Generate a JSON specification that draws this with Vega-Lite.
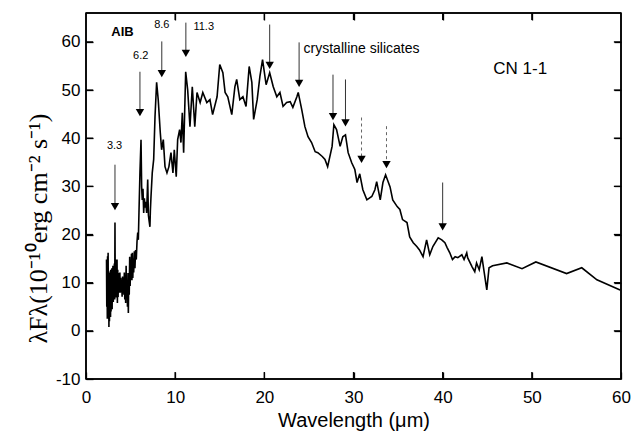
{
  "$schema": "https://vega.github.io/schema/vega-lite/v6.json",
  "width": 535,
  "height": 366,
  "autosize": {"type": "none"},
  "padding": {"left": 86, "top": 13, "right": 23, "bottom": 52},
  "background": "white",
  "config": {
    "view": {"stroke": "black", "strokeWidth": 1.5},
    "font": "Liberation Sans",
    "axis": {
      "domain": false,
      "grid": false,
      "ticks": true,
      "tickColor": "black",
      "tickSize": 7,
      "tickWidth": 1.3,
      "offset": -7,
      "labelColor": "black",
      "labelFlush": false,
      "labelFont": "Liberation Sans",
      "labelFontSize": 17,
      "titleColor": "black",
      "titleFontWeight": "normal"
    }
  },
  "datasets": {
    "spectrum": [
      {"w": 2.3, "f": 14.8}, {"w": 2.33, "f": 5.0}, {"w": 2.36, "f": 13.0}, {"w": 2.39, "f": 2.5}, {"w": 2.42, "f": 15.5},
      {"w": 2.45, "f": 3.7}, {"w": 2.48, "f": 16.2}, {"w": 2.51, "f": 4.0}, {"w": 2.54, "f": 12.5}, {"w": 2.57, "f": 0.8},
      {"w": 2.6, "f": 11.0}, {"w": 2.63, "f": 2.0}, {"w": 2.66, "f": 12.1}, {"w": 2.69, "f": 3.0}, {"w": 2.72, "f": 10.5},
      {"w": 2.75, "f": 2.9}, {"w": 2.78, "f": 12.7}, {"w": 2.81, "f": 4.0}, {"w": 2.84, "f": 11.5}, {"w": 2.87, "f": 5.0},
      {"w": 2.9, "f": 13.0}, {"w": 2.93, "f": 4.5}, {"w": 2.96, "f": 12.1}, {"w": 2.99, "f": 6.4}, {"w": 3.02, "f": 13.5},
      {"w": 3.06, "f": 6.0}, {"w": 3.1, "f": 12.5}, {"w": 3.14, "f": 7.0}, {"w": 3.18, "f": 14.0}, {"w": 3.22, "f": 6.5},
      {"w": 3.25, "f": 22.5}, {"w": 3.28, "f": 8.0}, {"w": 3.32, "f": 14.8}, {"w": 3.36, "f": 6.9}, {"w": 3.4, "f": 13.5},
      {"w": 3.44, "f": 7.5}, {"w": 3.48, "f": 14.8}, {"w": 3.52, "f": 5.8}, {"w": 3.56, "f": 12.7}, {"w": 3.6, "f": 7.0},
      {"w": 3.64, "f": 12.0}, {"w": 3.68, "f": 7.9}, {"w": 3.72, "f": 11.5}, {"w": 3.76, "f": 8.5}, {"w": 3.8, "f": 12.1},
      {"w": 3.85, "f": 7.9}, {"w": 3.9, "f": 11.0}, {"w": 3.95, "f": 8.2}, {"w": 4.0, "f": 10.6}, {"w": 4.05, "f": 7.1},
      {"w": 4.1, "f": 11.3}, {"w": 4.15, "f": 8.0}, {"w": 4.2, "f": 10.8}, {"w": 4.25, "f": 7.5}, {"w": 4.3, "f": 12.1},
      {"w": 4.35, "f": 6.5}, {"w": 4.4, "f": 11.0}, {"w": 4.45, "f": 5.8}, {"w": 4.5, "f": 13.5}, {"w": 4.55, "f": 7.0},
      {"w": 4.6, "f": 12.0}, {"w": 4.65, "f": 5.0}, {"w": 4.7, "f": 9.0}, {"w": 4.75, "f": 3.7}, {"w": 4.8, "f": 12.0},
      {"w": 4.85, "f": 7.5}, {"w": 4.9, "f": 15.4}, {"w": 4.95, "f": 9.3}, {"w": 5.0, "f": 14.0}, {"w": 5.05, "f": 10.6},
      {"w": 5.1, "f": 16.0}, {"w": 5.15, "f": 10.5}, {"w": 5.2, "f": 16.2}, {"w": 5.25, "f": 11.0}, {"w": 5.3, "f": 15.0},
      {"w": 5.35, "f": 12.1}, {"w": 5.42, "f": 16.5}, {"w": 5.49, "f": 13.0}, {"w": 5.56, "f": 16.8}, {"w": 5.64, "f": 14.8},
      {"w": 5.72, "f": 18.5}, {"w": 5.8, "f": 20.4}, {"w": 5.87, "f": 18.9}, {"w": 5.94, "f": 24.5}, {"w": 6.05, "f": 32.8},
      {"w": 6.17, "f": 39.7}, {"w": 6.24, "f": 30.0}, {"w": 6.31, "f": 27.2}, {"w": 6.39, "f": 29.5}, {"w": 6.47, "f": 24.5},
      {"w": 6.55, "f": 27.5}, {"w": 6.61, "f": 25.6}, {"w": 6.7, "f": 26.8}, {"w": 6.8, "f": 24.5}, {"w": 6.92, "f": 31.4},
      {"w": 7.0, "f": 24.0}, {"w": 7.06, "f": 23.1}, {"w": 7.17, "f": 21.6}, {"w": 7.22, "f": 25.0},
      {"w": 7.29, "f": 27.9}, {"w": 7.43, "f": 32.8}, {"w": 7.59, "f": 35.6}, {"w": 7.74, "f": 44.5}, {"w": 7.92, "f": 51.6},
      {"w": 8.1, "f": 48.0}, {"w": 8.33, "f": 41.2}, {"w": 8.48, "f": 37.6}, {"w": 8.67, "f": 39.7}, {"w": 8.86, "f": 34.1},
      {"w": 9.08, "f": 32.8}, {"w": 9.3, "f": 34.1}, {"w": 9.53, "f": 37.0}, {"w": 9.75, "f": 32.8}, {"w": 9.9, "f": 37.6},
      {"w": 10.12, "f": 32.0}, {"w": 10.28, "f": 39.7}, {"w": 10.5, "f": 41.8}, {"w": 10.65, "f": 39.1}, {"w": 10.8, "f": 45.3},
      {"w": 10.95, "f": 37.0}, {"w": 11.18, "f": 53.8}, {"w": 11.4, "f": 50.1}, {"w": 11.66, "f": 42.4}, {"w": 11.92, "f": 50.7},
      {"w": 12.2, "f": 42.4}, {"w": 12.45, "f": 49.5}, {"w": 12.8, "f": 47.4}, {"w": 13.1, "f": 49.5}, {"w": 13.55, "f": 47.4},
      {"w": 13.9, "f": 48.0}, {"w": 14.2, "f": 44.9}, {"w": 14.7, "f": 48.6}, {"w": 15.0, "f": 55.3}, {"w": 15.35, "f": 53.6},
      {"w": 15.6, "f": 49.5}, {"w": 15.9, "f": 48.6}, {"w": 16.35, "f": 44.9}, {"w": 16.7, "f": 50.7}, {"w": 16.9, "f": 52.2},
      {"w": 17.25, "f": 48.0}, {"w": 17.6, "f": 48.6}, {"w": 17.95, "f": 46.6}, {"w": 18.3, "f": 54.9}, {"w": 18.6, "f": 51.6},
      {"w": 18.8, "f": 43.9}, {"w": 19.2, "f": 48.0}, {"w": 19.5, "f": 52.8}, {"w": 19.8, "f": 56.3}, {"w": 20.2, "f": 51.1},
      {"w": 20.6, "f": 53.6}, {"w": 21.0, "f": 50.7}, {"w": 21.4, "f": 48.6}, {"w": 21.75, "f": 49.5}, {"w": 22.1, "f": 46.6},
      {"w": 22.5, "f": 47.4}, {"w": 22.9, "f": 47.6}, {"w": 23.2, "f": 46.4}, {"w": 23.65, "f": 48.6}, {"w": 23.8, "f": 49.5},
      {"w": 24.2, "f": 45.9}, {"w": 24.55, "f": 42.4}, {"w": 24.9, "f": 40.3}, {"w": 25.3, "f": 39.1}, {"w": 25.7, "f": 37.2},
      {"w": 26.0, "f": 37.0}, {"w": 26.5, "f": 36.2}, {"w": 26.8, "f": 35.6}, {"w": 27.1, "f": 34.1}, {"w": 27.6, "f": 38.3},
      {"w": 27.8, "f": 42.8}, {"w": 28.1, "f": 41.8}, {"w": 28.5, "f": 38.3}, {"w": 28.8, "f": 40.3}, {"w": 29.1, "f": 40.7},
      {"w": 29.4, "f": 37.0}, {"w": 29.8, "f": 34.9}, {"w": 30.15, "f": 33.5}, {"w": 30.4, "f": 30.8}, {"w": 30.7, "f": 32.6},
      {"w": 31.05, "f": 29.3}, {"w": 31.5, "f": 27.2}, {"w": 32.05, "f": 27.9}, {"w": 32.4, "f": 29.3}, {"w": 32.6, "f": 31.0},
      {"w": 33.0, "f": 27.2}, {"w": 33.3, "f": 30.8}, {"w": 33.6, "f": 32.4}, {"w": 34.1, "f": 29.9}, {"w": 34.4, "f": 27.2},
      {"w": 34.9, "f": 25.8}, {"w": 35.2, "f": 25.2}, {"w": 35.5, "f": 23.1}, {"w": 36.0, "f": 22.5}, {"w": 36.3, "f": 19.5},
      {"w": 36.7, "f": 18.3}, {"w": 37.1, "f": 17.5}, {"w": 37.4, "f": 16.8}, {"w": 37.8, "f": 15.4}, {"w": 38.2, "f": 18.9},
      {"w": 38.55, "f": 15.8}, {"w": 38.9, "f": 17.5}, {"w": 39.5, "f": 19.3}, {"w": 39.9, "f": 18.9}, {"w": 40.25, "f": 18.3},
      {"w": 40.5, "f": 17.3}, {"w": 40.8, "f": 16.2}, {"w": 41.1, "f": 14.8}, {"w": 41.4, "f": 15.4}, {"w": 41.7, "f": 15.2},
      {"w": 42.15, "f": 15.8}, {"w": 42.4, "f": 14.8}, {"w": 42.7, "f": 16.2}, {"w": 42.8, "f": 15.2}, {"w": 43.3, "f": 13.3},
      {"w": 43.6, "f": 12.3}, {"w": 43.8, "f": 14.1}, {"w": 44.1, "f": 12.7}, {"w": 44.4, "f": 15.4}, {"w": 44.5, "f": 14.1},
      {"w": 44.95, "f": 8.5}, {"w": 45.2, "f": 13.1}, {"w": 45.6, "f": 13.5}, {"w": 47.2, "f": 14.1}, {"w": 48.9, "f": 12.9},
      {"w": 50.45, "f": 14.3}, {"w": 53.9, "f": 11.9}, {"w": 55.6, "f": 13.1}, {"w": 57.3, "f": 10.6}, {"w": 59.9, "f": 8.5}
    ],
    "arrows": [
      {"w": 3.25, "top": 34.5, "head": 25.8},
      {"w": 6.05, "top": 53.8, "head": 45.3},
      {"w": 8.5, "top": 60.1, "head": 53.4},
      {"w": 11.2, "top": 64.0, "head": 57.6},
      {"w": 20.6, "top": 63.6, "head": 55.1},
      {"w": 23.9, "top": 59.9, "head": 51.4},
      {"w": 27.7, "top": 53.2, "head": 44.5},
      {"w": 29.1, "top": 52.2, "head": 43.2},
      {"w": 40.0, "top": 30.8, "head": 21.6}
    ],
    "faintArrows": [
      {"w": 30.9, "top": 44.3, "head": 35.6},
      {"w": 33.7, "top": 42.5, "head": 34.5}
    ],
    "labels": [
      {"w": 3.2, "f": 38.3, "text": "3.3"},
      {"w": 6.13, "f": 57.0, "text": "6.2"},
      {"w": 8.5, "f": 63.6, "text": "8.6"},
      {"w": 13.2, "f": 63.0, "text": "11.3"}
    ],
    "frame": [
      {"a": 0, "b": 60, "c": -10, "d": -10},
      {"a": 0, "b": 60, "c": 66, "d": 66},
      {"a": 0, "b": 0, "c": -10, "d": 66},
      {"a": 60, "b": 60, "c": -10, "d": 66}
    ],
    "xticks": [{"v": 10}, {"v": 20}, {"v": 30}, {"v": 40}, {"v": 50}],
    "yticks": [{"v": 0}, {"v": 10}, {"v": 20}, {"v": 30}, {"v": 40}, {"v": 50}, {"v": 60}]
  },
  "layer": [
    {
      "data": {"name": "frame"},
      "mark": {"type": "rule", "color": "black", "strokeWidth": 1.5},
      "encoding": {
        "x": {"field": "a", "type": "quantitative", "scale": {"domain": [0, 60], "nice": false, "zero": false},
              "axis": {"orient": "top", "values": [10, 20, 30, 40, 50], "labels": false, "title": null}},
        "x2": {"field": "b"},
        "y": {"field": "c", "type": "quantitative", "scale": {"domain": [-10, 66], "nice": false, "zero": false},
              "axis": {"orient": "right", "values": [0, 10, 20, 30, 40, 50, 60], "labels": false, "title": null}},
        "y2": {"field": "d"}
      }
    },
    {
      "data": {"name": "xticks"},
      "mark": {"type": "rule", "color": "black", "strokeWidth": 1.3},
      "encoding": {
        "x": {"field": "v", "type": "quantitative", "axis": null},
        "y": {"datum": -10, "type": "quantitative", "axis": null},
        "y2": {"datum": -8.55}
      }
    },
    {
      "data": {"name": "xticks"},
      "mark": {"type": "rule", "color": "black", "strokeWidth": 1.3},
      "encoding": {
        "x": {"field": "v", "type": "quantitative", "axis": null},
        "y": {"datum": 66, "type": "quantitative", "axis": null},
        "y2": {"datum": 64.55}
      }
    },
    {
      "data": {"name": "yticks"},
      "mark": {"type": "rule", "color": "black", "strokeWidth": 1.3},
      "encoding": {
        "y": {"field": "v", "type": "quantitative", "axis": null},
        "x": {"datum": 0, "type": "quantitative", "axis": null},
        "x2": {"datum": 0.8}
      }
    },
    {
      "data": {"name": "yticks"},
      "mark": {"type": "rule", "color": "black", "strokeWidth": 1.3},
      "encoding": {
        "y": {"field": "v", "type": "quantitative", "axis": null},
        "x": {"datum": 60, "type": "quantitative", "axis": null},
        "x2": {"datum": 59.2}
      }
    },
    {
      "data": {"name": "spectrum"},
      "mark": {"type": "line", "color": "black", "strokeWidth": 1.6},
      "encoding": {
        "x": {
          "field": "w", "type": "quantitative",
          "axis": {
            "orient": "bottom", "values": [0, 10, 20, 30, 40, 50, 60],
            "labelPadding": 10,
            "title": "Wavelength (μm)", "titleFontSize": 20, "titlePadding": 5,
            "titleFont": "Liberation Sans"
          }
        },
        "y": {
          "field": "f", "type": "quantitative",
          "axis": {
            "orient": "left", "values": [-10, 0, 10, 20, 30, 40, 50, 60],
            "labelExpr": "'' + datum.value",
            "labelPadding": 6,
            "title": "λFλ(10⁻¹⁰erg cm⁻² s⁻¹)", "titleFont": "Liberation Serif",
            "titleFontSize": 26, "titleX": -55, "titleY": 215, "titleAngle": -90,
            "titleBaseline": "middle", "titleAlign": "center"
          }
        }
      }
    },
    {
      "data": {"name": "arrows"},
      "mark": {"type": "rule", "color": "#333333", "strokeWidth": 1},
      "encoding": {
        "x": {"field": "w", "type": "quantitative", "axis": null},
        "y": {"field": "top", "type": "quantitative", "axis": null},
        "y2": {"field": "head"}
      }
    },
    {
      "data": {"name": "faintArrows"},
      "mark": {"type": "rule", "color": "#666666", "strokeWidth": 1, "strokeDash": [3, 3]},
      "encoding": {
        "x": {"field": "w", "type": "quantitative", "axis": null},
        "y": {"field": "top", "type": "quantitative", "axis": null},
        "y2": {"field": "head"}
      }
    },
    {
      "data": {"name": "arrows"},
      "mark": {"type": "point", "shape": "triangle-down", "filled": true, "color": "black", "size": 70, "opacity": 1},
      "encoding": {
        "x": {"field": "w", "type": "quantitative", "axis": null},
        "y": {"field": "head", "type": "quantitative", "axis": null}
      }
    },
    {
      "data": {"name": "faintArrows"},
      "mark": {"type": "point", "shape": "triangle-down", "filled": true, "color": "black", "size": 70, "opacity": 1},
      "encoding": {
        "x": {"field": "w", "type": "quantitative", "axis": null},
        "y": {"field": "head", "type": "quantitative", "axis": null}
      }
    },
    {
      "data": {"name": "labels"},
      "mark": {"type": "text", "font": "Liberation Sans", "fontSize": 11, "color": "black", "align": "center", "baseline": "middle"},
      "encoding": {
        "x": {"field": "w", "type": "quantitative", "axis": null},
        "y": {"field": "f", "type": "quantitative", "axis": null},
        "text": {"field": "text"}
      }
    },
    {
      "data": {"values": [{"w": 4.1, "f": 62.0, "text": "AIB"}]},
      "mark": {"type": "text", "font": "Liberation Sans", "fontSize": 13, "fontWeight": "bold", "color": "black", "align": "center", "baseline": "middle"},
      "encoding": {
        "x": {"field": "w", "type": "quantitative", "axis": null},
        "y": {"field": "f", "type": "quantitative", "axis": null},
        "text": {"field": "text"}
      }
    },
    {
      "data": {"values": [{"w": 24.4, "f": 58.5, "text": "crystalline silicates"}]},
      "mark": {"type": "text", "font": "Liberation Sans", "fontSize": 14, "color": "black", "align": "left", "baseline": "middle"},
      "encoding": {
        "x": {"field": "w", "type": "quantitative", "axis": null},
        "y": {"field": "f", "type": "quantitative", "axis": null},
        "text": {"field": "text"}
      }
    },
    {
      "data": {"values": [{"w": 48.7, "f": 54.3, "text": "CN 1-1"}]},
      "mark": {"type": "text", "font": "Liberation Sans", "fontSize": 17, "color": "black", "align": "center", "baseline": "middle"},
      "encoding": {
        "x": {"field": "w", "type": "quantitative", "axis": null},
        "y": {"field": "f", "type": "quantitative", "axis": null},
        "text": {"field": "text"}
      }
    }
  ]
}
